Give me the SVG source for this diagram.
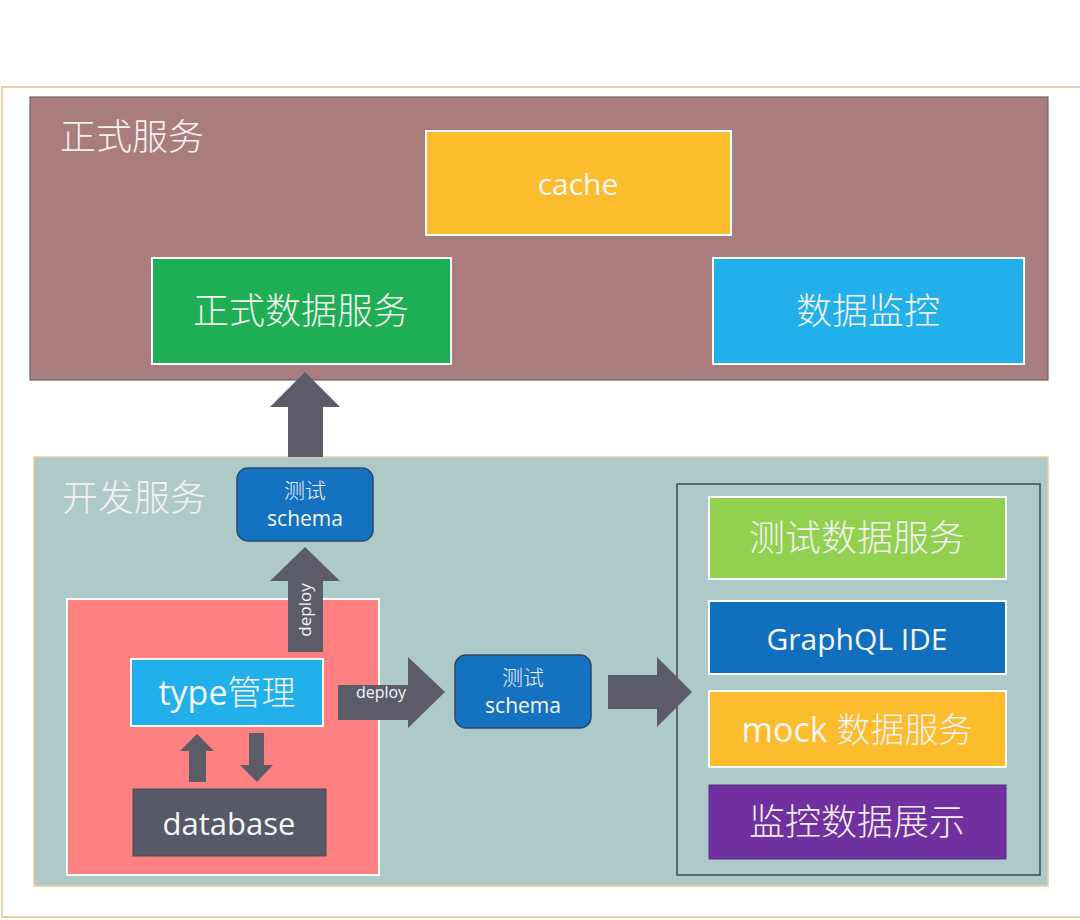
<svg xmlns="http://www.w3.org/2000/svg" width="1080" height="920" viewBox="0 0 1080 920">
<style>
.cjk{font-family:"Noto Sans CJK SC","Noto Sans",sans-serif;font-weight:300;fill:#f4f1f1}
.lat{font-family:"Open Sans","Noto Sans CJK SC",sans-serif;fill:#f6f6f6}
.box{stroke:#ffffff;stroke-width:2}
.arr{fill:#5b5c68}
</style>
<rect x="0" y="0" width="1080" height="920" fill="#ffffff"/>
<rect x="2" y="87" width="1082" height="830" fill="#ffffff" stroke="#e6d3aa" stroke-width="2"/>
<g id="prod">
<rect x="30" y="97" width="1018" height="283" fill="#a97d7d" stroke="#6d6470" stroke-width="1.2"/>
<text class="cjk" x="60" y="150" font-size="36">正式服务</text>
</g>
<g id="dev">
<rect x="34" y="457" width="1014" height="429" fill="#aecac8" stroke="#e8cda0" stroke-width="1.5"/>
<text class="cjk" x="62" y="511" font-size="36">开发服务</text>
</g>
<g id="cache">
<rect class="box" x="426" y="131" width="305" height="104" fill="#fbbd2e"/>
<text class="lat" x="578" y="195" font-size="30" text-anchor="middle">cache</text>
</g>
<g id="prod-data">
<rect class="box" x="152" y="258" width="299" height="106" fill="#1eae54"/>
<text class="cjk" x="301" y="324" font-size="36" text-anchor="middle">正式数据服务</text>
</g>
<g id="monitor">
<rect class="box" x="713" y="258" width="311" height="106" fill="#22b0ea"/>
<text class="cjk" x="868" y="324" font-size="36" text-anchor="middle">数据监控</text>
</g>
<g id="schema1">
<rect x="237" y="468" width="136" height="73" rx="11" fill="#1572c0" stroke="#2c4a68" stroke-width="1.5"/>
<text class="cjk" x="305" y="498" font-size="21" text-anchor="middle">测试</text>
<text class="lat" x="305" y="526" font-size="21" text-anchor="middle">schema</text>
</g>
<g id="typebox">
<rect x="67" y="599" width="312" height="276" fill="#ff8080" stroke="#ffffff" stroke-width="2"/>
</g>
<g id="type">
<rect class="box" x="131" y="659" width="192" height="67" fill="#22b0ea"/>
<text x="227" y="705" font-size="34" text-anchor="middle"><tspan class="lat">type</tspan><tspan class="cjk">管理</tspan></text>
</g>
<g id="database">
<rect x="133" y="789" width="193" height="67" fill="#575a66" stroke="#4a4c57" stroke-width="1"/>
<text class="lat" x="229" y="835" font-size="31" text-anchor="middle">database</text>
</g>
<g id="schema2">
<rect x="455" y="655" width="136" height="73" rx="11" fill="#1572c0" stroke="#2c4a68" stroke-width="1.5"/>
<text class="cjk" x="523" y="685" font-size="21" text-anchor="middle">测试</text>
<text class="lat" x="523" y="713" font-size="21" text-anchor="middle">schema</text>
</g>
<g id="services">
<rect x="677" y="484" width="363" height="391" fill="none" stroke="#3c4852" stroke-width="1.5"/>
</g>
<g id="test-data">
<rect class="box" x="709" y="497" width="297" height="82" fill="#92d050"/>
<text class="cjk" x="857" y="551" font-size="36" text-anchor="middle">测试数据服务</text>
</g>
<g id="graphql-ide">
<rect class="box" x="709" y="601" width="297" height="73" fill="#1070bf"/>
<text class="lat" x="857" y="650" font-size="30" text-anchor="middle">GraphQL IDE</text>
</g>
<g id="mock">
<rect class="box" x="709" y="691" width="297" height="76" fill="#fbbd2e"/>
<text x="857" y="742" font-size="34" text-anchor="middle"><tspan class="lat">mock </tspan><tspan class="cjk">数据服务</tspan></text>
</g>
<g id="monitor-show">
<rect x="709" y="785" width="297" height="74" fill="#7030a0" stroke="#5a2a80" stroke-width="1"/>
<text class="cjk" x="857" y="835" font-size="36" text-anchor="middle">监控数据展示</text>
</g>
<g id="connectors">
<polygon class="arr" points="305,372 340,407 323,407 323,457 288,457 288,407 270,407"/>
<polygon class="arr" points="305,547 340,581 323,581 323,652 288,652 288,581 270,581"/>
<text class="lat" transform="translate(311,610) rotate(-90)" font-size="17" text-anchor="middle">deploy</text>
<polygon class="arr" points="445,692 408,728 408,720 338,720 338,685 408,685 408,657"/>
<text class="lat" x="381" y="698" font-size="16" text-anchor="middle">deploy</text>
<polygon class="arr" points="692,692 657,727 657,709 608,709 608,675 657,675 657,657"/>
<polygon class="arr" points="197,734 214,751 206,751 206,782 189,782 189,751 180,751"/>
<polygon class="arr" points="257,782 273,765 264,765 264,733 249,733 249,765 240,765"/>
</g>
</svg>
